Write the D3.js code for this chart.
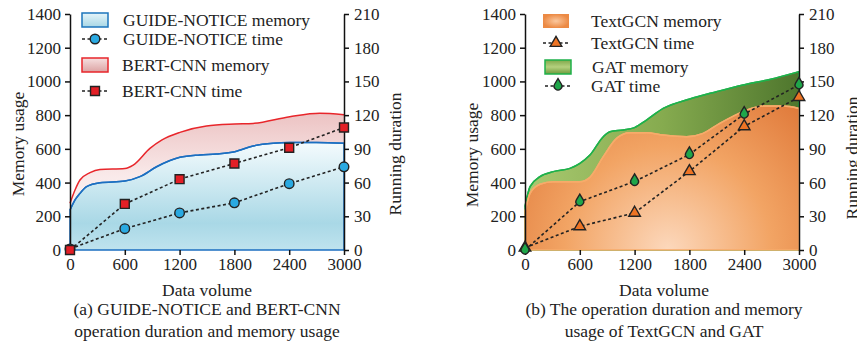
<!DOCTYPE html>
<html>
<head>
<meta charset="utf-8">
<script src="https://cdn.jsdelivr.net/npm/d3@7"></script>
<style>
  body { margin: 0; background: #fff; }
  svg text { font-family: "Liberation Serif", "Times New Roman", "DejaVu Serif", serif !important; fill: #222; }
</style>
</head>
<body>
<svg id="chart" width="857" height="346"></svg>
<script>
// ---- data ----
const xTicks = [0, 600, 1200, 1800, 2400, 3000];
const memTicks = [0, 200, 400, 600, 800, 1000, 1200, 1400];
const timeTicks = [0, 30, 60, 90, 120, 150, 180, 210];

const timeX = [0, 600, 1200, 1800, 2400, 3000];
const guideTime = [1, 19, 33, 42, 59, 74];
const bertTime = [0, 41, 63, 77, 91, 109];
const textgcnTime = [2, 21, 33, 70, 110, 136];
const gatTime = [0, 43, 61, 85, 121, 147];

const guideMemX = [0, 55, 109, 182, 328, 601, 765, 948, 1203, 1422, 1604, 1804, 2005, 2224, 2406, 2698, 3000];
const guideMem = [237, 297, 336, 376, 399, 409, 435, 494, 550, 564, 570, 583, 617, 633, 637, 637, 633];
const bertMemX = [0, 55, 109, 219, 328, 601, 692, 875, 1003, 1203, 1494, 1804, 2005, 2406, 2734, 3000];
const bertMem = [277, 356, 415, 459, 478, 484, 504, 603, 652, 698, 735, 747, 751, 791, 811, 803];
const textgcnMemX = [0, 55, 164, 310, 601, 711, 857, 1002, 1148, 1330, 1513, 1768, 1950, 2132, 2388, 2606, 2825, 3000];
const textgcnMem = [227, 336, 390, 405, 405, 431, 554, 662, 696, 696, 682, 672, 692, 751, 821, 854, 854, 840];
const gatMemX = [0, 55, 164, 310, 492, 601, 711, 857, 930, 1075, 1199, 1330, 1513, 1804, 2096, 2388, 2679, 3000];
const gatMem = [257, 376, 435, 465, 484, 514, 563, 672, 702, 712, 726, 771, 840, 896, 939, 979, 1012, 1058];

const FONT = "'Liberation Serif', 'Times New Roman', 'DejaVu Serif', serif";
const svg = d3.select("#chart").attr("font-family", FONT);
const defs = svg.append("defs");

function linGrad(id, x2, y2, stops) {
  const g = defs.append("linearGradient").attr("id", id)
    .attr("x1", 0).attr("y1", 0).attr("x2", x2).attr("y2", y2);
  stops.forEach(s => g.append("stop").attr("offset", s[0]).attr("stop-color", s[1]));
}
linGrad("blueG", 0, 1, [[0, "#f4fbfd"], [0.75, "#a9d8e6"], [1, "#bfe3ee"]]);
linGrad("redG", 0, 1, [[0, "#ecc3c3"], [0.45, "#f9e9e9"], [1, "#ffffff"]]);
linGrad("greenG", 1, 0, [[0, "#a9c970"], [0.5, "#86ab4f"], [1, "#4e762d"]]);
linGrad("blueSw", 0, 1, [[0, "#e6f5fa"], [1, "#a8d7e5"]]);
linGrad("redSw", 0, 1, [[0, "#f6e0e0"], [1, "#dca3a3"]]);
linGrad("greenSw", 0, 1, [[0, "#7fa84a"], [0.5, "#b4d07e"], [1, "#6e9a3c"]]);
const rg = defs.append("radialGradient").attr("id", "orangeG")
  .attr("gradientUnits", "userSpaceOnUse").attr("cx", 668).attr("cy", 250).attr("r", 230);
[[0, "#fcd8bc"], [0.45, "#f2a464"], [1, "#d9692a"]].forEach(s =>
  rg.append("stop").attr("offset", s[0]).attr("stop-color", s[1]));
const rs = defs.append("radialGradient").attr("id", "orangeSw");
[[0, "#fbc89e"], [1, "#ec8a44"]].forEach(s =>
  rs.append("stop").attr("offset", s[0]).attr("stop-color", s[1]));

const yMem = d3.scaleLinear().domain([0, 1400]).range([250, 14]);
const yTime = d3.scaleLinear().domain([0, 210]).range([250, 14]);
const fmt = d3.format("d");

function zip(xs, ys) { return xs.map((x, i) => [x, ys[i]]); }

function txt(sel) {
  return sel.style("font-family", FONT).style("font-size", "17.5px");
}

function drawPanel(p) {
  const x = d3.scaleLinear().domain([0, 3000]).range([p.left, p.left + 274]);
  const g = svg.append("g");
  const area = d3.area().x(d => x(d[0])).y0(yMem(0)).y1(d => yMem(d[1])).curve(d3.curveMonotoneX);
  const line = d3.line().x(d => x(d[0])).y(d => yMem(d[1])).curve(d3.curveMonotoneX);

  p.areas.forEach(a => {
    const d = zip(a.x, a.v);
    g.append("path").attr("d", area(d)).attr("fill", a.fill)
      .attr("stroke", a.full ? a.stroke : "none").attr("stroke-width", 1.5);
    g.append("path").attr("d", line(d)).attr("fill", "none")
      .attr("stroke", a.stroke).attr("stroke-width", 1.5);
  });

  // axes
  const ax = g.append("g").attr("transform", `translate(0,250)`)
    .call(d3.axisBottom(x).tickValues(xTicks).tickFormat(fmt).tickSize(5).tickPadding(3));
  ax.select(".domain").remove();
  const al = g.append("g").attr("transform", `translate(${p.left},0)`)
    .call(d3.axisLeft(yMem).tickValues(memTicks).tickFormat(fmt).tickSize(5).tickPadding(4).tickSizeOuter(0));
  const ar = g.append("g").attr("transform", `translate(${p.left + 274},0)`)
    .call(d3.axisRight(yTime).tickValues(timeTicks).tickFormat(fmt).tickSize(5).tickPadding(5).tickSizeOuter(0));
  [ax, al, ar].forEach(a => {
    a.attr("font-family", FONT);
    a.selectAll("text").style("font-family", FONT).style("font-size", "17px").attr("fill", "#222");
    a.selectAll("line, path").attr("stroke", "#111").attr("stroke-width", 1.5);
  });

  // time series
  const tline = d3.line().x(d => x(d[0])).y(d => yTime(d[1]));
  p.times.forEach(t => {
    const d = zip(timeX, t.v);
    g.append("path").attr("d", tline(d)).attr("fill", "none")
      .attr("stroke", "#222").attr("stroke-width", 1.6).attr("stroke-dasharray", "3,2.5");
    g.selectAll(null).data(d).enter().append("path")
      .attr("transform", dd => `translate(${x(dd[0])},${yTime(dd[1])})`)
      .attr("d", t.marker).attr("fill", t.color).attr("stroke", "#222").attr("stroke-width", 1.4);
  });

  // legend
  const lg = g.append("g");
  p.legend.forEach(l => {
    if (l.swatch) {
      lg.append("rect").attr("x", l.sx).attr("y", l.y - 7).attr("width", 26).attr("height", 14)
        .attr("fill", l.swatch).attr("stroke", l.border || "none").attr("stroke-width", 1.5);
    } else {
      lg.append("line").attr("x1", l.sx).attr("x2", l.sx + 26).attr("y1", l.y).attr("y2", l.y)
        .attr("stroke", "#222").attr("stroke-width", 1.6).attr("stroke-dasharray", "3,2.5");
      lg.append("path").attr("transform", `translate(${l.sx + 13},${l.y})`)
        .attr("d", l.marker).attr("fill", l.color).attr("stroke", "#222").attr("stroke-width", 1.4);
    }
    txt(lg.append("text").attr("x", l.tx).attr("y", l.y).attr("dy", "0.35em")).text(l.label);
  });

  // titles
  txt(g.append("text").attr("transform", `translate(${p.memX},${p.memY}) rotate(-90)`)
    .attr("text-anchor", "middle").attr("dy", "0.35em")).text("Memory usage");
  txt(g.append("text").attr("transform", `translate(${p.runX},${p.runY}) rotate(-90)`)
    .attr("text-anchor", "middle").attr("dy", "0.35em")).text("Running duration");
  txt(g.append("text").attr("x", p.cx).attr("y", 296).attr("text-anchor", "middle")).text("Data volume");
  p.caption.forEach((c, i) => txt(g.append("text").attr("x", p.cx).attr("y", 315 + i * 22)
    .attr("text-anchor", "middle")).text(c));
}

const circle = d3.symbol().type(d3.symbolCircle).size(72)();
const square = d3.symbol().type(d3.symbolSquare).size(80)();
const triangle = d3.symbol().type(d3.symbolTriangle).size(58)();
const drop = "M0,-7.5 L3.3,-2 A3.9,3.9 0 1 1 -3.3,-2 Z";

drawPanel({
  left: 70, cx: 207,
  memX: 18, memY: 144, runX: 395, runY: 154,
  areas: [
    { x: bertMemX, v: bertMem, fill: "url(#redG)", stroke: "#e8262b", full: false },
    { x: guideMemX, v: guideMem, fill: "url(#blueG)", stroke: "#1c6fc1", full: true }
  ],
  times: [
    { v: guideTime, color: "#2aa9e1", marker: circle },
    { v: bertTime, color: "#e31f26", marker: square }
  ],
  legend: [
    { y: 20, sx: 82, tx: 123, swatch: "url(#blueSw)", border: "#1c75bc", label: "GUIDE-NOTICE memory" },
    { y: 39, sx: 82, tx: 123, marker: circle, color: "#2aa9e1", label: "GUIDE-NOTICE time" },
    { y: 65, sx: 82, tx: 122, swatch: "url(#redSw)", border: "#e8262b", label: "BERT-CNN memory" },
    { y: 91, sx: 82, tx: 122, marker: square, color: "#e31f26", label: "BERT-CNN time" }
  ],
  caption: ["(a) GUIDE-NOTICE and BERT-CNN", "operation duration and memory usage"]
});

drawPanel({
  left: 525, cx: 664,
  memX: 472, memY: 155, runX: 852, runY: 158,
  areas: [
    { x: gatMemX, v: gatMem, fill: "url(#greenG)", stroke: "#1fb14b", full: true },
    { x: textgcnMemX, v: textgcnMem, fill: "url(#orangeG)", stroke: "#f7ab6a", full: true }
  ],
  times: [
    { v: textgcnTime, color: "#ee7424", marker: triangle },
    { v: gatTime, color: "#1fa64a", marker: drop }
  ],
  legend: [
    { y: 21, sx: 543, tx: 591, swatch: "url(#orangeSw)", label: "TextGCN memory" },
    { y: 43, sx: 543, tx: 591, marker: triangle, color: "#ee7424", label: "TextGCN time" },
    { y: 67, sx: 545, tx: 592, swatch: "url(#greenSw)", border: "#1fb14b", label: "GAT memory" },
    { y: 86, sx: 545, tx: 591, marker: drop, color: "#1fa64a", label: "GAT time" }
  ],
  caption: ["(b) The operation duration and memory", "usage of TextGCN and GAT"]
});
</script>
</body>
</html>
